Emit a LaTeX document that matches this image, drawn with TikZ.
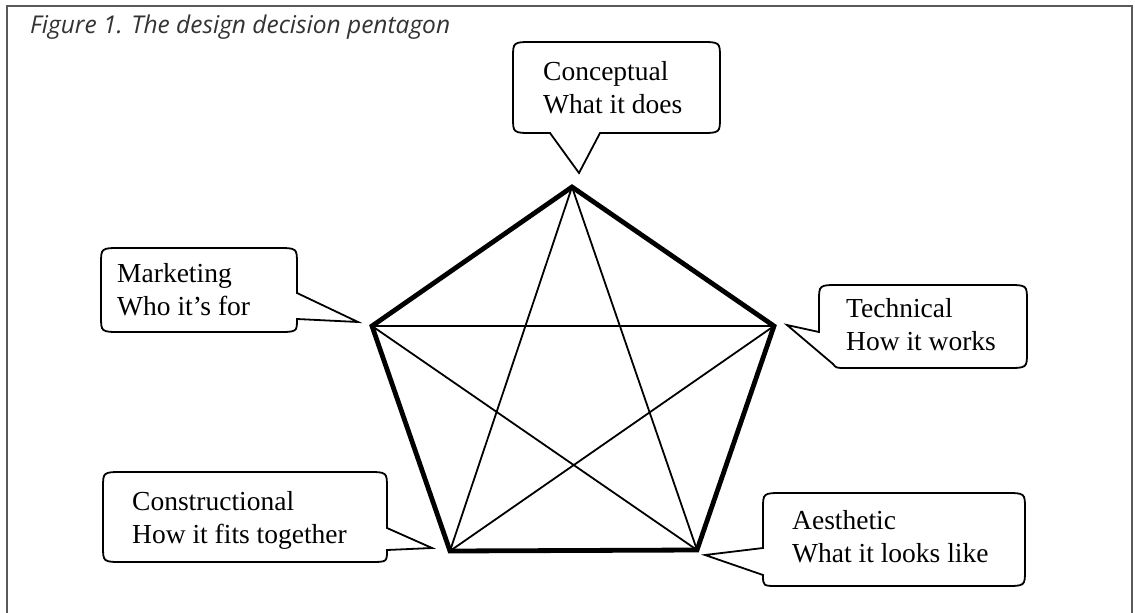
\documentclass[tikz,border=0pt]{standalone}
\usepackage{fontspec}
\setmainfont{Liberation Serif}
\newfontfamily\titlefont{Open Sans}
\begin{document}
\begin{tikzpicture}[x=1pt,y=-1pt,
  callout/.style={draw=black, line width=1.8pt, line join=miter},
  lbl/.style={anchor=base west, align=left, inner sep=0pt, font=\fontsize{27.5}{33}\selectfont},
  rim/.style={line width=4.8pt, line join=miter},
  diag/.style={line width=1.8pt},
  framestyle/.style={draw=black!65, line width=1.8pt}]
\useasboundingbox (0,0) rectangle (1135,613);
% frame
\draw[framestyle] (7,613) -- (7,6) -- (1132,6) -- (1132,613);
% title
\node[anchor=base west, inner sep=0pt, text=black!80,
      font=\titlefont\itshape\fontsize{24.5}{28}\selectfont] (title) at (30,33)
      {Figure 1. The design decision pentagon};
% pentagon vertices
\coordinate (P1) at (572,187);
\coordinate (P2) at (774,326);
\coordinate (P3) at (697,550);
\coordinate (P4) at (450,551);
\coordinate (P5) at (372,326);
% diagonals
\draw[diag] (P1) -- (P3);
\draw[diag] (P1) -- (P4);
\draw[diag] (P2) -- (P5);
\draw[diag] (P2) -- (P4);
\draw[diag] (P5) -- (P3);
% rim
\draw[rim] (P1) -- (P2) -- (P3) -- (P4) -- (P5) -- cycle;
% callout tips
\coordinate (ctip) at (579,173);
\coordinate (mtip) at (358,322);
\coordinate (ttip) at (787,325);
\coordinate (ktip) at (432,548);
\coordinate (atip) at (705,555);
% Conceptual
\draw[callout] (ctip) -- (600,133) -- (700,133) .. controls (720,133) .. (720,117)
  -- (720,58) .. controls (720,42) .. (700,42) -- (533,42) .. controls (513,42) .. (513,58)
  -- (513,117) .. controls (513,133) .. (533,133) -- (550,133) -- cycle;
\node[lbl] (ctext) at (543,113) {Conceptual\\What it does};
% Marketing
\draw[callout] (mtip) -- (297,319) .. controls (297,332) .. (277,332) -- (121,332)
  .. controls (101,332) .. (101,316) -- (101,264) .. controls (101,248) .. (121,248)
  -- (277,248) .. controls (297,248) .. (297,264) -- (297,293) -- cycle;
\node[lbl] (mtext) at (117,315) {Marketing\\Who it’s for};
% Technical
\draw[callout] (ttip) -- (819,332) -- (819,301) .. controls (819,285) .. (839,285)
  -- (1007,285) .. controls (1027,285) .. (1027,301) -- (1027,352)
  .. controls (1027,368) .. (1007,368) -- (848,368) .. controls (836,368) .. (833,364) -- cycle;
\node[lbl] (ttext) at (846,350) {Technical\\How it works};
% Constructional
\draw[callout] (ktip) -- (387,550) .. controls (387,562) .. (370,562)
  -- (123,562) .. controls (103,562) .. (103,546) -- (103,488) .. controls (103,472) .. (123,472)
  -- (367,472) .. controls (387,472) .. (387,488) -- (387,528) -- cycle;
\node[lbl] (ktext) at (132,543) {Constructional\\How it fits together};
% Aesthetic
\draw[callout] (atip) -- (763,548) -- (763,509) .. controls (763,493) .. (783,493)
  -- (1005,493) .. controls (1025,493) .. (1025,509)
  -- (1025,570) .. controls (1025,586) .. (1005,586) -- (778,586) .. controls (763,586) .. (763,575) -- cycle;
\node[lbl] (atext) at (792,562) {Aesthetic\\What it looks like};
\end{tikzpicture}
\end{document}
